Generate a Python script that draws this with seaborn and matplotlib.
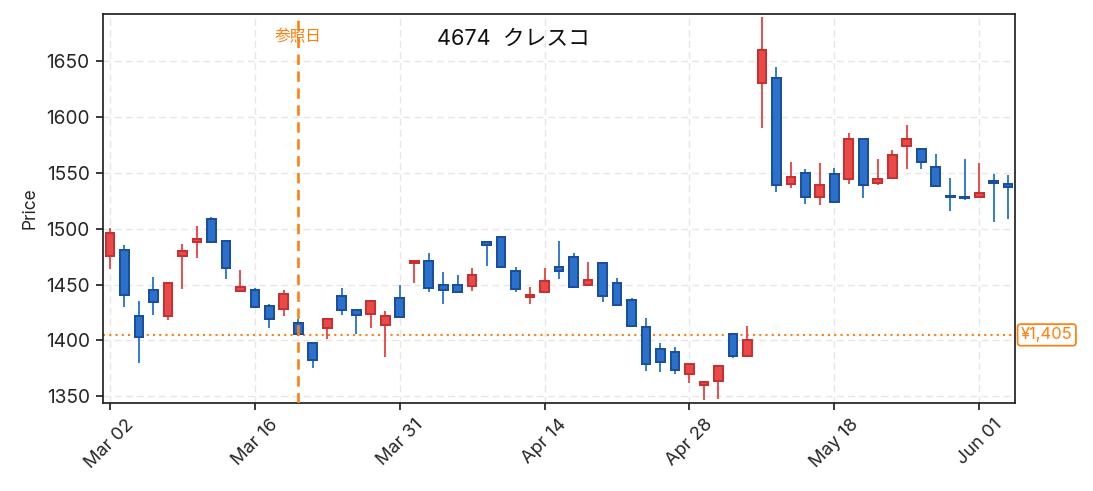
import numpy as np
import pandas as pd
import seaborn as sns
import matplotlib
matplotlib.use('Agg')
import matplotlib.pyplot as plt
import matplotlib.transforms as mtransforms

# 2020年の東証営業日 (祝日を除く)
holidays = ['2020-03-20', '2020-04-29', '2020-05-04', '2020-05-05', '2020-05-06']
dates = pd.bdate_range('2020-03-02', '2020-06-03', freq='C', holidays=holidays)

opens = [1476, 1481, 1422, 1445, 1422, 1476, 1488, 1509, 1489, 1444,
         1445, 1431, 1428, 1416, 1398, 1411, 1440, 1427, 1424, 1414,
         1438, 1469, 1471, 1450, 1450, 1449, 1488, 1493, 1462, 1439,
         1443, 1466, 1475, 1450, 1469, 1451, 1436, 1412, 1392, 1390,
         1370, 1360, 1364, 1406, 1386, 1630, 1635, 1540, 1550, 1528,
         1549, 1544, 1580, 1541, 1545, 1574, 1571, 1555, 1529, 1528,
         1528, 1542, 1540]
highs = [1501, 1485, 1435, 1457, 1452, 1486, 1502, 1510, 1489, 1463,
         1447, 1433, 1445, 1419, 1399, 1420, 1447, 1428, 1435, 1426,
         1450, 1472, 1478, 1461, 1459, 1465, 1488, 1493, 1466, 1448,
         1465, 1489, 1478, 1470, 1470, 1456, 1438, 1420, 1398, 1394,
         1380, 1363, 1378, 1406, 1413, 1689, 1645, 1560, 1553, 1559,
         1554, 1586, 1581, 1562, 1570, 1593, 1571, 1567, 1545, 1562,
         1559, 1549, 1548]
lows = [1464, 1430, 1380, 1423, 1418, 1446, 1474, 1487, 1455, 1443,
        1429, 1411, 1422, 1404, 1375, 1401, 1423, 1406, 1411, 1385,
        1421, 1451, 1443, 1433, 1443, 1444, 1467, 1465, 1443, 1433,
        1443, 1455, 1447, 1449, 1434, 1431, 1412, 1373, 1372, 1370,
        1362, 1347, 1348, 1384, 1386, 1590, 1533, 1536, 1522, 1521,
        1523, 1540, 1527, 1539, 1545, 1553, 1553, 1538, 1516, 1526,
        1528, 1506, 1509]
closes = [1496, 1441, 1403, 1434, 1451, 1480, 1491, 1488, 1465, 1448,
          1430, 1419, 1442, 1406, 1383, 1419, 1427, 1423, 1435, 1422,
          1421, 1471, 1447, 1445, 1443, 1459, 1485, 1466, 1446, 1441,
          1453, 1462, 1448, 1454, 1440, 1432, 1413, 1379, 1381, 1374,
          1379, 1363, 1377, 1386, 1400, 1660, 1539, 1546, 1528, 1539,
          1524, 1580, 1539, 1544, 1566, 1580, 1560, 1538, 1528, 1527,
          1532, 1541, 1537]

ref_date = '2020-03-19'
ref_price = 1405
title = '4674  クレスコ'

df = pd.DataFrame({'date': dates, 'open': opens, 'high': highs,
                   'low': lows, 'close': closes})
df['idx'] = np.arange(len(df))
df['up'] = df.close >= df.open

sns.set_theme(style='white')
plt.rcParams['font.family'] = ['Inter', 'Noto Sans CJK JP', 'DejaVu Sans']

fig = plt.figure(figsize=(1093 / 125, 491 / 125), dpi=125)
ax = fig.add_axes([0.094, 0.179, 0.835, 0.7925])

up_fill, up_edge = '#e84a4a', '#c93030'
dn_fill, dn_edge = '#2b70c9', '#1a4fa0'

# ヒゲ
for up, fill in [(True, up_fill), (False, '#2f78d0')]:
    d = df[df.up == up]
    ax.vlines(d.idx, d.low, d.high, color=fill, lw=1.1, zorder=2)

# 実体
for up, fill, edge in [(True, up_fill, up_edge), (False, dn_fill, dn_edge)]:
    d = df[df.up == up]
    bottom = np.minimum(d.open, d.close)
    height = np.maximum(np.abs(d.close - d.open), 1.2)
    ax.bar(d.idx, height, bottom=bottom, width=0.6, color=fill,
           edgecolor=edge, linewidth=1.15, zorder=3)

# 参照日
ref_idx = df.index[df.date == pd.Timestamp(ref_date)][0]
ax.axvline(ref_idx, color='#ff7f0e', ls=(0, (4, 2.5)), lw=1.5, zorder=4)
ax.text(ref_idx, 1672, '参照日', color='#ff7f0e', fontsize=9,
        ha='center', va='center')

# 参照価格
ax.axhline(ref_price, color='#ff7f0e', ls=(0, (1, 2)), lw=1.2, zorder=1.5)
trans = mtransforms.blended_transform_factory(ax.transAxes, ax.transData)
ax.text(1.006, ref_price, f'¥{ref_price:,}', transform=trans, color='#ff7f0e',
        fontsize=9.5, ha='left', va='center',
        bbox=dict(boxstyle='round,pad=0.2', fc='white', ec='#ff7f0e', lw=1.0))

ax.text(0.45, 0.935, title, transform=ax.transAxes, fontsize=12.5,
        ha='center', va='center', color='#111111')

ticks = list(range(0, len(df), 10))
ax.set_xticks(ticks)
ax.set_xticklabels([df.date[i].strftime('%b %d') for i in ticks],
                   rotation=45, fontsize=10.5)
ax.set_yticks(range(1350, 1651, 50))
ax.tick_params(axis='y', labelsize=11)
ax.set_xlim(-0.5, len(df) - 0.5)
ax.set_ylim(1344, 1692)
ax.set_ylabel('Price', fontsize=10)

ax.grid(True, ls=(0, (5, 3)), color='#e6e6e6', lw=0.8, zorder=0)
ax.set_axisbelow(True)
for s in ax.spines.values():
    s.set_color('#222222')
    s.set_linewidth(1.0)
ax.tick_params(axis='both', which='both', bottom=True, left=True,
               length=4, width=1.0, color='#222222')

fig.savefig('out.png', dpi=125, facecolor='white')
